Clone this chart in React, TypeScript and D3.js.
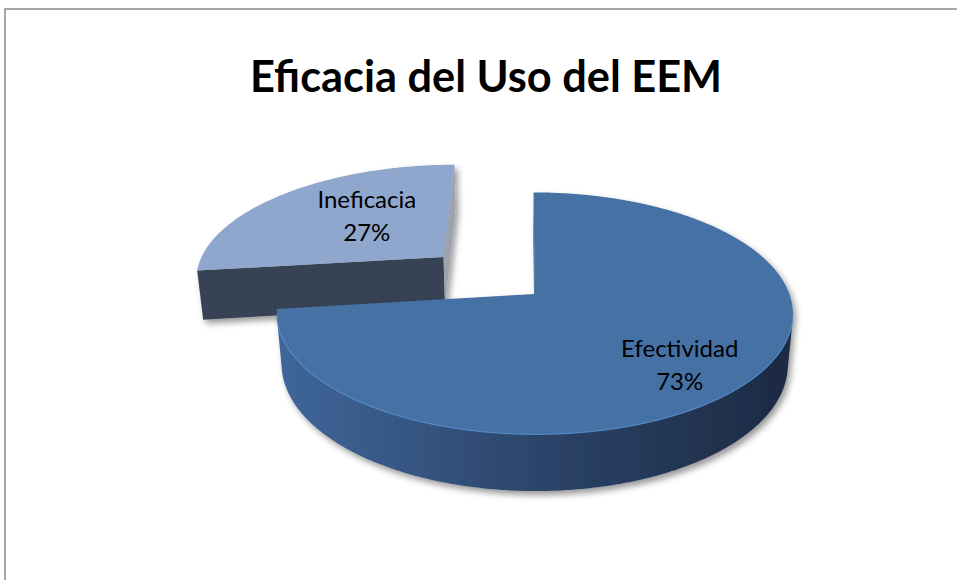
import React, { useEffect, useRef } from 'react';
import * as d3 from 'd3';

// Data
const categories = ['Efectividad', 'Ineficacia'];
const values = [73, 27];
const percentLabels = ['73%', '27%'];
const explode = [0, 0.5];

// Colors for each slice
const topColors = ['#4571a5', '#8fa6cd'];
const sideLight = ['#40669a', '#3b4556'];
const sideDark = ['#1c2a43', '#363f4f'];
const edgeColors = ['#1d2c45', '#394354'];

const width = 957;
const height = 580;

// label placement inside each slice: radius fraction and vertical nudge
const labelLayout = [
  { r: 0.7, dy: 12 },
  { r: 0.464, dy: -10 },
];

// 3D camera used to project the pie
const tilt = 0.481;
const sinT = Math.sin(tilt);
const cosT = Math.cos(tilt);
const dist = 5.535;
const focal = 1410;
const cx = 527;
const cy = 294;
const shiftU = 0.03;
const thickness = 0.2275;

const project = (u: number, v: number, h: number): [number, number] => {
  const z = dist - v * cosT - h * sinT;
  const x = cx + (focal * (u + shiftU)) / z;
  const y = cy - (focal * (h * cosT - v * sinT)) / z;
  return [x, y];
};

const App = () => {
  const svgRef = useRef<SVGSVGElement>(null);

  useEffect(() => {
    const svg = d3.select(svgRef.current);
    svg.selectAll('*').remove();

    const defs = svg.append('defs');
    const shadow = defs
      .append('filter')
      .attr('id', 'shadow')
      .attr('x', '-20%')
      .attr('y', '-20%')
      .attr('width', '140%')
      .attr('height', '160%');
    shadow
      .append('feDropShadow')
      .attr('dx', 3)
      .attr('dy', 4)
      .attr('stdDeviation', 3)
      .attr('flood-color', '#000')
      .attr('flood-opacity', 0.4);

    // chart border
    svg
      .append('rect')
      .attr('x', 5)
      .attr('y', 9)
      .attr('width', width + 20)
      .attr('height', height + 20)
      .attr('fill', 'white')
      .attr('stroke', '#8a8a8a')
      .attr('stroke-width', 1.5);

    // title
    svg
      .append('text')
      .attr('x', 486)
      .attr('y', 92)
      .attr('text-anchor', 'middle')
      .attr('textLength', 472)
      .attr('lengthAdjust', 'spacingAndGlyphs')
      .style('font-family', 'Lato, "Open Sans", sans-serif')
      .style('font-weight', 'bold')
      .style('font-size', '44px')
      .style('fill', '#000')
      .text('Eficacia del Uso del EEM');

    const pieGenerator = d3
      .pie<number>()
      .sort(null)
      .value((d) => d);
    const arcs = pieGenerator(values);

    const line = d3.line();
    const step = Math.PI / 360;

    const slices = arcs.map((d, i) => {
      const mid = (d.startAngle + d.endAngle) / 2;
      const ou = explode[i] * Math.sin(mid);
      const ov = -explode[i] * Math.cos(mid);
      const rim = (a: number, h: number) => project(ou + Math.sin(a), ov - Math.cos(a), h);
      const center = (h: number) => project(ou, ov, h);
      const angles = d3.range(d.startAngle, d.endAngle, step).concat([d.endAngle]);
      const zMid = dist - (ov - 0.5 * Math.cos(mid)) * cosT;
      return { d, i, mid, ou, ov, rim, center, angles, zMid };
    });

    // far slices first
    slices.sort((a, b) => b.zMid - a.zMid);

    slices.forEach((s) => {
      const { d, i, ou, ov, rim, center, angles } = s;
      const g = svg.append('g').attr('filter', 'url(#shadow)');

      const grad = defs
        .append('linearGradient')
        .attr('id', `side${i}`)
        .attr('gradientUnits', 'userSpaceOnUse')
        .attr('x1', project(ou - 1, ov, 0)[0])
        .attr('x2', project(ou + 1, ov, 0)[0])
        .attr('y1', 0)
        .attr('y2', 0);
      grad.append('stop').attr('offset', '0%').attr('stop-color', sideLight[i]);
      grad.append('stop').attr('offset', '55%').attr('stop-color', d3.interpolateRgb(sideLight[i], sideDark[i])(0.6));
      grad.append('stop').attr('offset', '100%').attr('stop-color', sideDark[i]);

      const camV = dist * cosT;
      const ouW = ou + shiftU;

      // radial faces
      const radial = [
        { a: d.startAngle, n: [-Math.cos(d.startAngle), -Math.sin(d.startAngle)] },
        { a: d.endAngle, n: [Math.cos(d.endAngle), Math.sin(d.endAngle)] },
      ];
      radial.forEach(({ a, n }) => {
        const vis = n[1] * camV - (n[0] * ouW + n[1] * ov);
        if (vis <= 0) return;
        const pts = [center(0), rim(a, 0), rim(a, -thickness), center(-thickness)];
        // faces turned sideways read lighter, like the soft edge in the original
        const fill = n[1] > 0.1 ? edgeColors[i] : d3.interpolateRgb(edgeColors[i], '#c8ccd2')(i === 0 ? 0 : 0.7);
        g.append('path')
          .attr('d', line(pts) + 'Z')
          .attr('fill', fill);
      });

      // curved outer side, only the part facing the camera
      const visible = angles.filter((a) => {
        const nCam = -Math.cos(a) * camV;
        const nP = Math.sin(a) * ouW - Math.cos(a) * ov + 1;
        return nCam - nP > 0;
      });
      if (visible.length > 1) {
        const top = visible.map((a) => rim(a, 0));
        const bottom = visible.map((a) => rim(a, -thickness)).reverse();
        g.append('path')
          .attr('d', line(top.concat(bottom)) + 'Z')
          .attr('fill', `url(#side${i})`);
      }

      // top face
      const topPts = [center(0)].concat(angles.map((a) => rim(a, 0)));
      g.append('path')
        .attr('d', line(topPts) + 'Z')
        .attr('fill', topColors[i]);

      // light rim along the front edge
      if (visible.length > 1) {
        svg
          .append('path')
          .attr('d', line(visible.map((a) => rim(a, 0))))
          .attr('fill', 'none')
          .attr('stroke', d3.color(topColors[i])!.brighter(0.6).formatHex())
          .attr('stroke-width', 1.2)
          .attr('opacity', 0.8);
      }
    });

    // labels
    slices.forEach((s) => {
      const { i, mid, ou, ov } = s;
      const { r, dy } = labelLayout[i];
      const [lx, ly] = project(ou + r * Math.sin(mid), ov - r * Math.cos(mid), 0);
      const t = svg
        .append('text')
        .attr('text-anchor', 'middle')
        .style('font-family', 'Lato, "Open Sans", sans-serif')
        .style('font-size', '24px')
        .style('fill', '#000');
      t.append('tspan').attr('x', lx).attr('y', ly + dy - 8).text(categories[i]);
      t.append('tspan').attr('x', lx).attr('y', ly + dy + 25).text(percentLabels[i]);
    });
  }, []);

  return (
    <div style={{ position: 'absolute', left: 0, top: 0, width, height, overflow: 'hidden', background: 'white' }}>
      <svg ref={svgRef} width={width} height={height} style={{ display: 'block' }}></svg>
    </div>
  );
};

export default App;
